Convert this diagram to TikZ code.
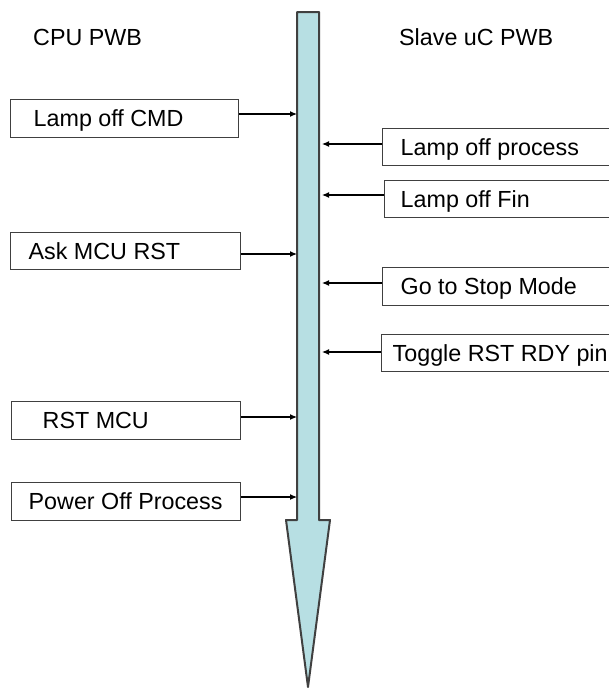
\documentclass[tikz,border=0pt]{standalone}
\usepackage{fontspec}
\setmainfont{Liberation Sans}
\usetikzlibrary{arrows.meta}
\definecolor{shaftcyan}{RGB}{183,223,227}
\def\boxtext#1#2{\makebox[#1pt][l]{#2}}
\tikzset{
  pwb/.style={anchor=base west, inner sep=0pt},
  stepbox/.style={draw=black!75, line width=1.4pt, anchor=west, minimum height=37.5pt,
    text height=16.7pt, text depth=0pt, inner ysep=0pt},
  conn/.style={-{Latex[length=7pt,width=6pt]}, line width=1.1pt},
}

\begin{document}
\begin{tikzpicture}[x=1pt,y=-1pt,font=\fontsize{23.3}{28}\selectfont]
	\clip (0,0) rectangle (609,688);
	%%%%% START %%%%%
	
	% time arrow
	\draw[fill=shaftcyan, draw=black!75, line width=2pt, line join=round]
		(297,12) -- (319,12) -- (319,520) -- (330,520) -- (308,687) -- (286,520) -- (297,520) -- cycle;
	\coordinate (shaftL) at (297,0);
	\coordinate (shaftR) at (322,0);
	
	\node[pwb] (cpu) at (33,45) {CPU PWB};
	\node[pwb] (slave) at (399,45) {Slave uC PWB};
	
	% CPU side
	\node[stepbox, inner xsep=23pt] (cmd) at (10,118.5) {\boxtext{182}{Lamp off CMD}};
	\node[stepbox, inner xsep=18pt] (ask) at (10,251) {\boxtext{194}{Ask MCU RST}};
	\node[stepbox, inner xsep=31pt] (rst) at (11,420.5) {\boxtext{167}{RST MCU}};
	\node[stepbox, inner xsep=17pt] (pwr) at (11,501.5) {\boxtext{195}{Power Off Process}};
	
	\draw[conn] ([yshift=4.5]cmd.east) -- ([yshift=4.5]cmd.east -| shaftL);
	\draw[conn] ([yshift=-3]ask.east) -- ([yshift=-3]ask.east -| shaftL);
	\draw[conn] ([yshift=3.5]rst.east) -- ([yshift=3.5]rst.east -| shaftL);
	\draw[conn] ([yshift=4.5]pwr.east) -- ([yshift=4.5]pwr.east -| shaftL);
	
	% slave side
	\node[stepbox, inner xsep=18pt] (proc) at (382,147) {\boxtext{260}{Lamp off process}};
	\node[stepbox, inner xsep=16pt] (fin) at (384,199) {\boxtext{260}{Lamp off Fin}};
	\node[stepbox, inner xsep=18pt] (stop) at (382,286.5) {\boxtext{260}{Go to Stop Mode}};
	\node[stepbox, inner xsep=11pt] (toggle) at (381,353) {\boxtext{260}{Toggle RST RDY pin}};
	
	\draw[conn] ([yshift=3]proc.west) -- ([yshift=3]proc.west -| shaftR);
	\draw[conn] ([yshift=4]fin.west) -- ([yshift=4]fin.west -| shaftR);
	\draw[conn] ([yshift=3.5]stop.west) -- ([yshift=3.5]stop.west -| shaftR);
	\draw[conn] ([yshift=1]toggle.west) -- ([yshift=1]toggle.west -| shaftR);
	
	%%%%% END %%%%%
\end{tikzpicture}
\end{document}
